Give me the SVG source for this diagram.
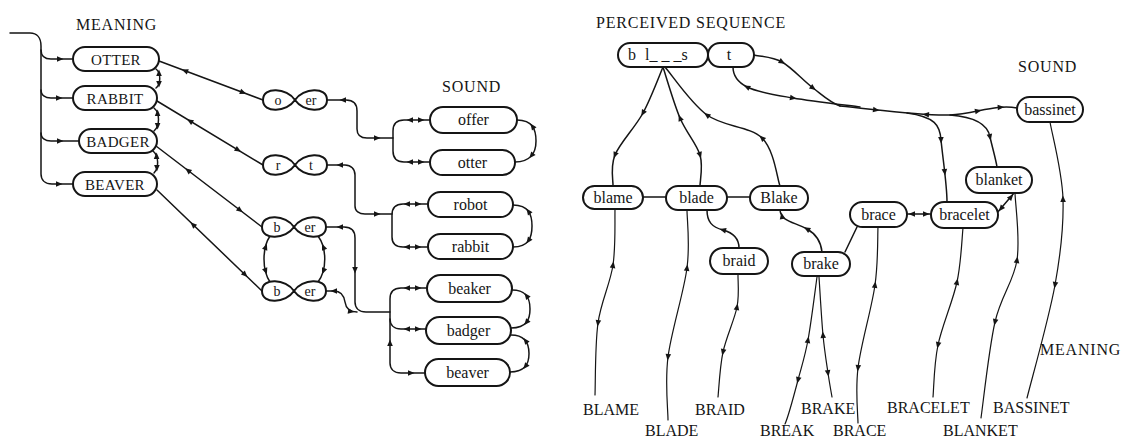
<svg xmlns="http://www.w3.org/2000/svg" width="1121" height="439" viewBox="0 0 1121 439">
<style>
.n{fill:#fff;stroke:#151515;stroke-width:2}
.c{fill:none;stroke:#151515;stroke-width:1.5;stroke-linejoin:round;stroke-linecap:round}
.f{fill:none;stroke:#151515;stroke-width:1.2;stroke-linecap:round}
.t{font-family:"Liberation Serif",serif;font-size:16px;fill:#151515;text-anchor:middle}
.m{font-family:"Liberation Serif",serif;font-size:15px;fill:#151515;text-anchor:middle;letter-spacing:0.3px}
.s{font-family:"Liberation Serif",serif;font-size:14px;fill:#151515;text-anchor:middle}
.h{font-family:"Liberation Serif",serif;font-size:16px;fill:#151515;letter-spacing:0.8px}
.l{font-family:"Liberation Serif",serif;font-size:16px;fill:#151515}
.a{fill:#151515}
</style>
<defs>
<path id="ah" class="a" d="M3.5,0 L-3,-2.8 L-3,2.8 Z"/>
</defs>
<rect width="1121" height="439" fill="#fff"/>

<!-- headings -->
<text class="h" x="76" y="30">MEANING</text>
<text class="h" x="442" y="92">SOUND</text>
<text class="h" x="596" y="28">PERCEIVED SEQUENCE</text>
<text class="h" x="1018" y="72">SOUND</text>
<text class="h" x="1040" y="355">MEANING</text>

<!-- connectors -->
<g id="connectors">
  <!-- left: entry bus -->
  <path class="c" d="M10,33 L30,33 C37,33 41,38 41,46 L41,174 C41,180 45,184 52,184 L73,184"/>
  <path class="c" d="M41,50 C41,56 45,59 51,59 L73,59"/>
  <path class="c" d="M41,90 C41,95 45,98 51,98 L73,98"/>
  <path class="c" d="M41,133 C41,138 45,141 51,141 L79,141"/>
  <!-- meaning side links -->
  <path class="c" d="M156,69 C161,73 161,84 156,88"/>
  <path class="c" d="M154,108 C160,113 160,126 154,131"/>
  <path class="c" d="M153,151 C159,156 159,168 154,173"/>
  <!-- diagonals -->
  <path class="c" d="M159,61 L263,100"/>
  <path class="c" d="M157,101 L263,165"/>
  <path class="c" d="M156,146 L262,227"/>
  <path class="c" d="M157,190 L262,291"/>
  <!-- oval between b/er nodes -->
  <path class="c" d="M270,236 C262,248 262,270 270,282"/>
  <path class="c" d="M318,236 C327,248 327,270 318,282"/>
  <!-- to sound buses -->
  <path class="c" d="M327,100 L346,100 C353,100 357,104 357,111 L357,129 C357,135 361,138 367,138 L393,138"/>
  <path class="c" d="M430,120 L404,120 C397,120 393,124 393,131 L393,151 C393,158 397,162 404,162 L430,162"/>
  <path class="c" d="M327,165 L345,165 C351,165 355,169 355,175 L355,206 C355,211 359,214 365,214 L392,214"/>
  <path class="c" d="M428,204 L403,204 C396,204 392,208 392,215 L392,237 C392,244 396,247 403,247 L428,247"/>
  <path class="c" d="M326,227 L344,227 C351,227 355,231 355,238 L355,302 C355,308 359,312 366,312 L390,312"/>
  <path class="c" d="M326,291 L334,291 C341,291 344,296 345,302 C346,309 350,312 357,312"/>
  <path class="c" d="M427,288 L401,288 C394,288 390,292 390,299 L390,363 C390,369 394,373 401,373 L425,373"/>
  <path class="c" d="M390,319 C390,325 394,329 401,329 L426,329"/>
  <!-- right arcs of sound nodes -->
  <path class="c" d="M517,120 C533,120 536,130 536,141 C536,152 531,162 515,162"/>
  <path class="c" d="M513,205 C529,205 532,215 532,226 C532,237 529,247 513,247"/>
  <path class="c" d="M512,290 C527,290 530,299 530,309 C530,319 527,328 511,328"/>
  <path class="c" d="M511,335 C526,335 529,344 529,353.5 C529,363 526,372 510,372"/>

  <!-- left arrowheads -->
  <use href="#ah" transform="translate(60,59)"/>
  <use href="#ah" transform="translate(59,98)"/>
  <use href="#ah" transform="translate(60,141)"/>
  <use href="#ah" transform="translate(59,184)"/>
  <use href="#ah" transform="translate(159,73) rotate(-90)"/>
  <use href="#ah" transform="translate(159,84) rotate(90)"/>
  <use href="#ah" transform="translate(157.6,113) rotate(-90)"/>
  <use href="#ah" transform="translate(157.6,126) rotate(90)"/>
  <use href="#ah" transform="translate(156.6,156) rotate(-90)"/>
  <use href="#ah" transform="translate(156.9,168) rotate(90)"/>
  <use href="#ah" transform="translate(185,70.75) rotate(200.6)"/>
  <use href="#ah" transform="translate(243,92.5) rotate(20.6)"/>
  <use href="#ah" transform="translate(190,121) rotate(211.1)"/>
  <use href="#ah" transform="translate(238,149.9) rotate(31.1)"/>
  <use href="#ah" transform="translate(188,170.5) rotate(217.4)"/>
  <use href="#ah" transform="translate(240,210.2) rotate(37.4)"/>
  <use href="#ah" transform="translate(193,224.6) rotate(223.9)"/>
  <use href="#ah" transform="translate(245,274.6) rotate(43.9)"/>
  <use href="#ah" transform="translate(265.7,247) rotate(-70)"/>
  <use href="#ah" transform="translate(265.7,271) rotate(70)"/>
  <use href="#ah" transform="translate(323.4,247) rotate(-113)"/>
  <use href="#ah" transform="translate(323.4,271) rotate(113)"/>
  <use href="#ah" transform="translate(343,100) rotate(180)"/>
  <use href="#ah" transform="translate(377,138)"/>
  <use href="#ah" transform="translate(410,120) rotate(180)"/>
  <use href="#ah" transform="translate(421,120)"/>
  <use href="#ah" transform="translate(410,162) rotate(180)"/>
  <use href="#ah" transform="translate(421,162)"/>
  <use href="#ah" transform="translate(340,165) rotate(180)"/>
  <use href="#ah" transform="translate(377,214)"/>
  <use href="#ah" transform="translate(407,204) rotate(180)"/>
  <use href="#ah" transform="translate(418,204)"/>
  <use href="#ah" transform="translate(407,247) rotate(180)"/>
  <use href="#ah" transform="translate(418,247)"/>
  <use href="#ah" transform="translate(340,227) rotate(180)"/>
  <use href="#ah" transform="translate(355,270) rotate(90)"/>
  <use href="#ah" transform="translate(334,291) rotate(180)"/>
  <use href="#ah" transform="translate(351,311.5) rotate(10)"/>
  <use href="#ah" transform="translate(407,288) rotate(180)"/>
  <use href="#ah" transform="translate(418,288)"/>
  <use href="#ah" transform="translate(407,329) rotate(180)"/>
  <use href="#ah" transform="translate(418,329)"/>
  <use href="#ah" transform="translate(411,373)"/>
  <use href="#ah" transform="translate(390,343) rotate(-90)"/>
  <use href="#ah" transform="translate(532.5,126.4) rotate(234.6)"/>
  <use href="#ah" transform="translate(531.5,155.6) rotate(130)"/>
  <use href="#ah" transform="translate(528.5,211.4) rotate(234.6)"/>
  <use href="#ah" transform="translate(528.5,240.6) rotate(125.4)"/>
  <use href="#ah" transform="translate(526.6,295.8) rotate(233.1)"/>
  <use href="#ah" transform="translate(526.5,322.3) rotate(128.2)"/>
  <use href="#ah" transform="translate(525.6,340.7) rotate(232.6)"/>
  <use href="#ah" transform="translate(525.5,366.3) rotate(128.7)"/>

  <!-- right: from perceived sequence -->
  <path class="c" d="M663,67 C659.7,74.7 651,98.3 643,113 C635,127.7 620,142.8 615,155 C610,167.2 613.3,180.8 613,186"/>
  <path class="c" d="M663,67 C665.8,75.5 673.8,103.3 680,118 C686.2,132.7 696.7,143.7 700,155 C703.3,166.3 700,180.8 700,186"/>
  <path class="c" d="M665,67 C672,75 690.8,103.2 707,115 C723.2,126.8 749.8,126.2 762,138 C774.2,149.8 777,178 780,186"/>
  <path class="c" d="M754,55 C758.7,56.2 772.2,56.5 782,62 C791.8,67.5 803.3,80.7 813,88 C822.7,95.3 830,102.5 840,106"/>
  <path class="c" d="M733,67 C733,74 737,81.8 747,87 C757,92.2 774.2,94.7 793,98 C811.8,101.3 848.8,105.5 860,107"/>
  <path class="c" d="M840,106 C880,110 920,116 950,115 C975,114 995,104 1017,108"/>
  <path class="c" d="M907,113 C935,117 940,125 941,140 C943,160 947,185 947,202"/>
  <path class="c" d="M950,115 C975,117 988,125 990,137 C993,150 996,160 997,167"/>
  <!-- between nodes -->
  <path class="c" d="M643,197 L666,197"/>
  <path class="c" d="M727,197 L750,197"/>
  <path class="c" d="M780,210 C781,222 795,222 807,229 C816,234 821,242 822,252"/>
  <path class="c" d="M707,210 C707,222 712,227 723,230 C734,233 739,240 739,248"/>
  <path class="c" d="M907,214 L931,214"/>
  <path class="c" d="M1014,193 L997,213"/>
  <path class="c" d="M857,227 L845,252"/>
  <!-- down to meanings -->
  <path class="f" d="M615,209 C614.7,218.3 615.8,246 613,265 C610.2,284 601,301.3 598,323 C595,344.7 595.5,383 595,395"/>
  <path class="f" d="M687,210 C687,219.7 690.2,243.5 687,268 C683.8,292.5 671.2,331.7 668,357 C664.8,382.3 668,409.5 668,420"/>
  <path class="f" d="M738,275 C737.8,280.3 739.5,294.2 737,307 C734.5,319.8 726.2,337 723,352 C719.8,367 718.8,389.5 718,397"/>
  <path class="f" d="M817,277 C815.5,287.5 811.2,322.8 808,340 C804.8,357.2 801.8,365.5 798,380 C794.2,394.5 787.2,419.2 785,424"/>
  <path class="f" d="M819,277 C819.7,286.7 821.5,319 823,335 C824.5,351 826.5,362.7 828,373 C829.5,383.3 831.3,393 832,397"/>
  <path class="f" d="M878,227 C877.5,236.7 878.3,261.5 875,285 C871.7,308.5 860.8,344.7 858,368 C855.2,391.3 858,415.5 858,423"/>
  <path class="f" d="M963,228 C962,237 961.2,262.5 957,282 C952.8,301.5 942,325.8 938,345 C934,364.2 933.8,388.3 933,397"/>
  <path class="f" d="M1015,193 C1015.3,204.2 1020.3,238.5 1017,260 C1013.7,281.5 1001,295.7 995,322 C989,348.3 983.3,402 981,418"/>
  <path class="f" d="M1050,122 C1052.2,134.8 1062.2,171.8 1063,199 C1063.8,226.2 1061,251.8 1055,285 C1049,318.2 1031.7,379.2 1027,398"/>

  <!-- right arrowheads -->
  <use href="#ah" transform="translate(643,113) rotate(118.6)"/>
  <use href="#ah" transform="translate(615,155) rotate(112.3)"/>
  <use href="#ah" transform="translate(680,118) rotate(247.2)"/>
  <use href="#ah" transform="translate(700,155) rotate(73.6)"/>
  <use href="#ah" transform="translate(707,115) rotate(216.2)"/>
  <use href="#ah" transform="translate(762,138) rotate(224.2)"/>
  <use href="#ah" transform="translate(782,62) rotate(29.2)"/>
  <use href="#ah" transform="translate(813,88) rotate(37.2)"/>
  <use href="#ah" transform="translate(747,87) rotate(207.3)"/>
  <use href="#ah" transform="translate(793,98) rotate(10)"/>
  <use href="#ah" transform="translate(876,110) rotate(8)"/>
  <use href="#ah" transform="translate(926,114.6) rotate(184)"/>
  <use href="#ah" transform="translate(978,110.9) rotate(-12)"/>
  <use href="#ah" transform="translate(1000.7,107.3) rotate(-3)"/>
  <use href="#ah" transform="translate(941,140) rotate(88)"/>
  <use href="#ah" transform="translate(944.7,172) rotate(84)"/>
  <use href="#ah" transform="translate(990,137) rotate(78)"/>
  <use href="#ah" transform="translate(782,216) rotate(-100)"/>
  <use href="#ah" transform="translate(807,229) rotate(210)"/>
  <use href="#ah" transform="translate(723,230) rotate(195)"/>
  <use href="#ah" transform="translate(912,214) rotate(180)"/>
  <use href="#ah" transform="translate(926,214)"/>
  <use href="#ah" transform="translate(1011,197) rotate(-49.6)"/>
  <use href="#ah" transform="translate(1001,208.5) rotate(130.4)"/>
  <use href="#ah" transform="translate(613,265) rotate(-81.5)"/>
  <use href="#ah" transform="translate(598,323) rotate(97.9)"/>
  <use href="#ah" transform="translate(687,268) rotate(-82.6)"/>
  <use href="#ah" transform="translate(668,357) rotate(97.1)"/>
  <use href="#ah" transform="translate(737,307) rotate(-79)"/>
  <use href="#ah" transform="translate(723,352) rotate(101.9)"/>
  <use href="#ah" transform="translate(808,340) rotate(-79.5)"/>
  <use href="#ah" transform="translate(798,380) rotate(104.8)"/>
  <use href="#ah" transform="translate(823,335) rotate(-95.4)"/>
  <use href="#ah" transform="translate(828,373) rotate(81.7)"/>
  <use href="#ah" transform="translate(875,285) rotate(-81.9)"/>
  <use href="#ah" transform="translate(858,368) rotate(96.9)"/>
  <use href="#ah" transform="translate(957,282) rotate(-78)"/>
  <use href="#ah" transform="translate(938,345) rotate(101.8)"/>
  <use href="#ah" transform="translate(1017,260) rotate(-81.2)"/>
  <use href="#ah" transform="translate(995,322) rotate(102.8)"/>
  <use href="#ah" transform="translate(1063,199) rotate(-91.8)"/>
  <use href="#ah" transform="translate(1055,285) rotate(100.3)"/>
</g>

<!-- meaning nodes (left) -->
<g id="m-otter"><rect class="n" x="73" y="47" width="86" height="24" rx="12"/><text class="m" x="116" y="64.5">OTTER</text></g>
<g id="m-rabbit"><rect class="n" x="73" y="86" width="84" height="24" rx="12"/><text class="m" x="115" y="103.5">RABBIT</text></g>
<g id="m-badger"><rect class="n" x="79" y="129" width="78" height="24" rx="12"/><text class="m" x="118" y="146.5">BADGER</text></g>
<g id="m-beaver"><rect class="n" x="73" y="172" width="84" height="24" rx="12"/><text class="m" x="115" y="189.5">BEAVER</text></g>

<!-- phoneme pair nodes -->
<g id="p-o-er"><path class="n" d="M295,100 C287,88 263,86 263,100 C263,114 287,112 295,100 C303,88 327,86 327,100 C327,114 303,112 295,100 Z"/><text class="s" x="278" y="104.5">o</text><text class="s" x="311" y="104.5">er</text></g>
<g id="p-r-t"><path class="n" d="M295,165 C287,153 263,151 263,165 C263,179 287,177 295,165 C303,153 327,151 327,165 C327,179 303,177 295,165 Z"/><text class="s" x="278" y="169.5">r</text><text class="s" x="311" y="169.5">t</text></g>
<g id="p-b-er-1"><path class="n" d="M294,227 C286,215 262,213 262,227 C262,241 286,239 294,227 C302,215 326,213 326,227 C326,241 302,239 294,227 Z"/><text class="s" x="277" y="232">b</text><text class="s" x="310" y="232">er</text></g>
<g id="p-b-er-2"><path class="n" d="M294,291 C286,279 262,277 262,291 C262,305 286,303 294,291 C302,279 326,277 326,291 C326,305 302,303 294,291 Z"/><text class="s" x="277" y="296">b</text><text class="s" x="310" y="296">er</text></g>

<!-- sound nodes (left) -->
<g id="s-offer"><rect class="n" x="430" y="107" width="87" height="26" rx="13"/><text class="t" x="473.5" y="125">offer</text></g>
<g id="s-otter"><rect class="n" x="430" y="150" width="85" height="25" rx="12.5"/><text class="t" x="472.5" y="167.5">otter</text></g>
<g id="s-robot"><rect class="n" x="428" y="192" width="85" height="25" rx="12.5"/><text class="t" x="470.5" y="209.5">robot</text></g>
<g id="s-rabbit"><rect class="n" x="428" y="234" width="85" height="25" rx="12.5"/><text class="t" x="470.5" y="251.5">rabbit</text></g>
<g id="s-beaker"><rect class="n" x="427" y="275" width="85" height="27" rx="13.5"/><text class="t" x="469.5" y="293.5">beaker</text></g>
<g id="s-badger"><rect class="n" x="426" y="317" width="85" height="27" rx="13.5"/><text class="t" x="468.5" y="335.5">badger</text></g>
<g id="s-beaver"><rect class="n" x="425" y="359" width="85" height="27" rx="13.5"/><text class="t" x="467.5" y="377.5">beaver</text></g>

<!-- right: perceived sequence -->
<g id="seq-bls"><rect class="n" x="618" y="43" width="90" height="24" rx="12"/><text class="l" x="628" y="60" font-size="15">b</text><text class="l" x="645" y="60" font-size="15">l_ _ _s</text></g>
<g id="seq-t"><rect class="n" x="708" y="43" width="46" height="24" rx="12"/><text class="t" x="729" y="60" font-size="15">t</text></g>

<!-- right sound nodes -->
<g id="r-bassinet"><rect class="n" x="1017" y="97" width="66" height="25" rx="12.5"/><text class="t" x="1050" y="114.5">bassinet</text></g>
<g id="r-blanket"><rect class="n" x="966" y="167" width="66" height="26" rx="13"/><text class="t" x="999" y="185">blanket</text></g>
<g id="r-bracelet"><rect class="n" x="931" y="202" width="67" height="26" rx="13"/><text class="t" x="964.5" y="220">bracelet</text></g>
<g id="r-brace"><rect class="n" x="850" y="202" width="57" height="25" rx="12.5"/><text class="t" x="878.5" y="219.5">brace</text></g>
<g id="r-brake"><rect class="n" x="792" y="252" width="58" height="24" rx="12"/><text class="t" x="821" y="269">brake</text></g>
<g id="r-braid"><rect class="n" x="710" y="248" width="58" height="26" rx="13"/><text class="t" x="739" y="266">braid</text></g>
<g id="r-blake"><rect class="n" x="750" y="186" width="58" height="24" rx="12"/><text class="t" x="779" y="203">Blake</text></g>
<g id="r-blade"><rect class="n" x="666" y="186" width="61" height="24" rx="12"/><text class="t" x="696.5" y="203">blade</text></g>
<g id="r-blame"><rect class="n" x="583" y="186" width="60" height="23" rx="11.5"/><text class="t" x="613" y="202.5">blame</text></g>

<!-- meaning labels -->
<g id="lab-blame"><text class="l" x="583" y="415">BLAME</text></g>
<g id="lab-blade"><text class="l" x="645" y="436">BLADE</text></g>
<g id="lab-braid"><text class="l" x="695" y="415">BRAID</text></g>
<g id="lab-break"><text class="l" x="760" y="436">BREAK</text></g>
<g id="lab-brake"><text class="l" x="801" y="414">BRAKE</text></g>
<g id="lab-brace"><text class="l" x="833" y="436">BRACE</text></g>
<g id="lab-bracelet"><text class="l" x="887" y="413">BRACELET</text></g>
<g id="lab-blanket"><text class="l" x="943" y="436">BLANKET</text></g>
<g id="lab-bassinet"><text class="l" x="993" y="413">BASSINET</text></g>
</svg>
